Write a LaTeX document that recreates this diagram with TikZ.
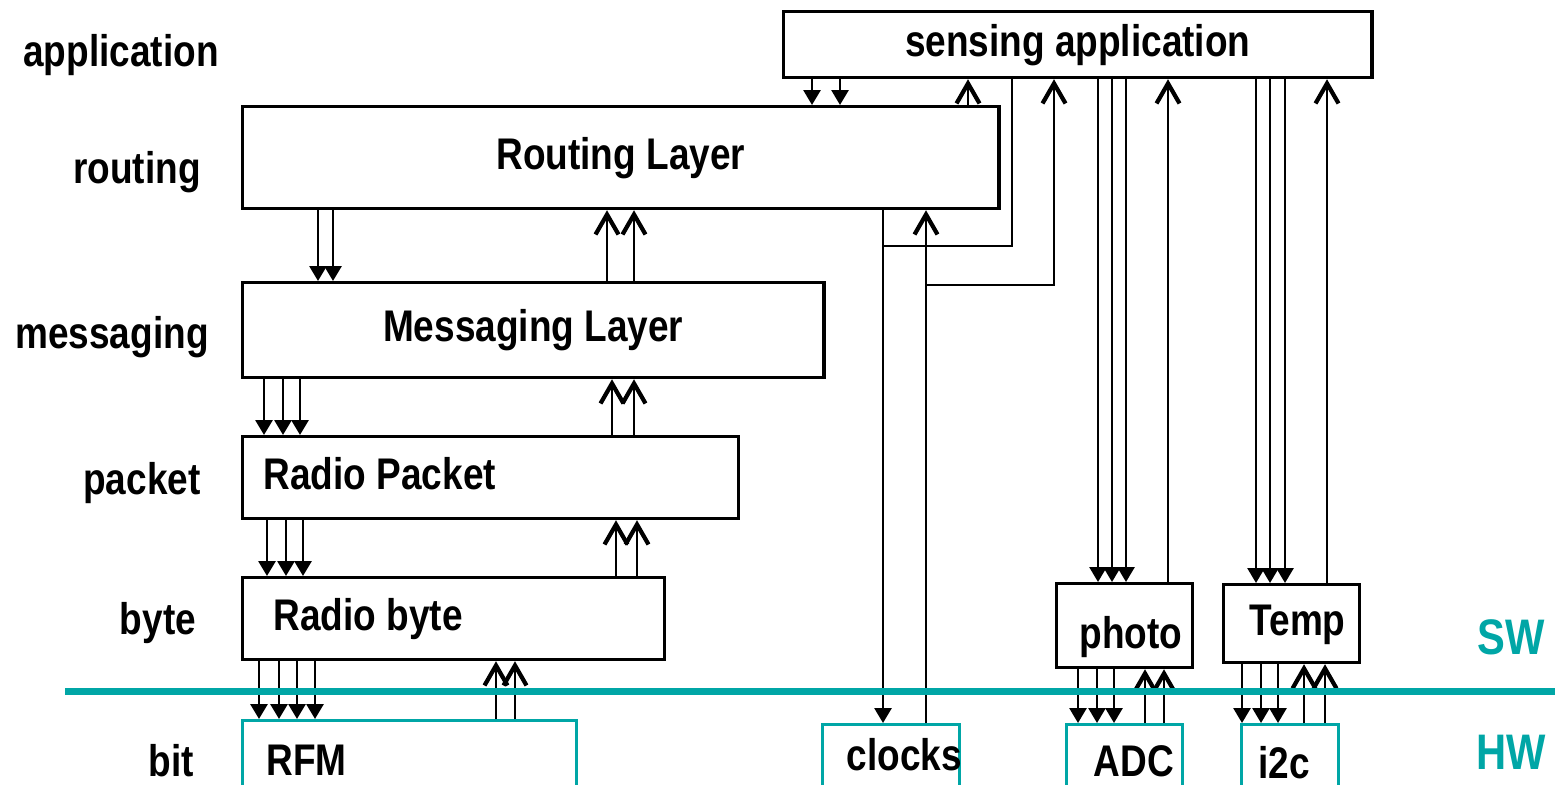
\documentclass[tikz,border=0pt]{standalone}
\usepackage{fontspec}
\usepackage{tikz}
\usetikzlibrary{arrows.meta, positioning}
\newfontfamily\layerfont[FakeStretch=0.835]{Liberation Sans}
\definecolor{hwteal}{HTML}{00A6A6}

\begin{document}
\begin{tikzpicture}[x=0.01cm, y=-0.01cm,
  every node/.style={font=\layerfont\bfseries\fontsize{12.6}{15}\selectfont, text height=0.32cm, text depth=0.09cm},
  sw/.style={draw, line width=0.9pt, anchor=north west, inner sep=0pt},
  hw/.style={sw, draw=hwteal},
  lft/.style={align=flush left, inner xsep=#1},
  side/.style={text=hwteal, font=\layerfont\bfseries\fontsize{14.2}{17}\selectfont},
  dn/.style={line width=0.8pt, -{Triangle[length=0.15cm, width=0.17cm]}},
  up/.style={line width=0.8pt, -{Straight Barb[length=0.2cm, width=0.23cm, line width=1.2pt]}},
  wire/.style={line width=0.8pt}]
  \clip (0,0) rectangle (1558,784);
  % software boxes
  \node[sw, minimum width=5.88cm, minimum height=0.66cm] (app) at (782,10) {sensing application};
  \node[sw, minimum width=7.56cm, minimum height=1.02cm] (routing) at (241,105) {Routing Layer};
  \node[sw, minimum width=5.81cm, minimum height=0.95cm] (msg) at (241,281) {Messaging Layer};
  \node[sw, lft=0.21cm, text width=4.54cm, minimum height=0.82cm] (pkt) at (241,435) {Radio Packet};
  \node[sw, lft=0.31cm, text width=3.60cm, minimum height=0.82cm] (byte) at (241,576) {Radio byte};
  \node[sw, lft=0.23cm, text width=0.90cm, minimum height=0.84cm, text height=0.54cm] (photo) at (1055,582) {photo};
  \node[sw, lft=0.26cm, text width=0.84cm, minimum height=0.78cm] (temp) at (1222,583) {Temp};
  % hardware boxes
  \node[hw, lft=0.24cm, text width=2.86cm, minimum height=0.86cm] (rfm) at (241,719) {RFM};
  \node[hw, lft=0.24cm, text width=0.89cm, minimum height=0.68cm] (clk) at (821,723) {clocks};
  \node[hw, lft=0.27cm, text width=0.62cm, minimum height=0.80cm] (adc) at (1065,723) {ADC};
  \node[hw, lft=0.17cm, text width=0.63cm, minimum height=0.84cm] (i2c) at (1240,723) {i2c};
  % layer names
  \node (lapp) at (121,55) {application};
  \node (lrout) at (137,172) {routing};
  \node (lmsg) at (112,337) {messaging};
  \node (lpkt) at (142,483) {packet};
  \node (lbyte) at (158,623) {byte};
  \node (lbit) at (171,765) {bit};
  \node[side] (lsw) at (1511,643) {SW};
  \node[side] (lhw) at (1511,758) {HW};
  % application <-> routing
  \draw[dn] (app.south -| 812,0) -- (routing.north -| 812,0);
  \draw[dn] (app.south -| 840,0) -- (routing.north -| 840,0);
  \draw[up] (routing.north -| 968,0) -- (app.south -| 968,0);
  % routing <-> messaging
  \draw[dn] (routing.south -| 318,0) -- (msg.north -| 318,0);
  \draw[dn] (routing.south -| 333,0) -- (msg.north -| 333,0);
  \draw[up] (msg.north -| 607,0) -- (routing.south -| 607,0);
  \draw[up] (msg.north -| 634,0) -- (routing.south -| 634,0);
  % messaging <-> packet
  \draw[dn] (msg.south -| 264,0) -- (pkt.north -| 264,0);
  \draw[dn] (msg.south -| 283,0) -- (pkt.north -| 283,0);
  \draw[dn] (msg.south -| 300,0) -- (pkt.north -| 300,0);
  \draw[up] (pkt.north -| 612,0) -- (msg.south -| 612,0);
  \draw[up] (pkt.north -| 634,0) -- (msg.south -| 634,0);
  % packet <-> byte
  \draw[dn] (pkt.south -| 267,0) -- (byte.north -| 267,0);
  \draw[dn] (pkt.south -| 286,0) -- (byte.north -| 286,0);
  \draw[dn] (pkt.south -| 303,0) -- (byte.north -| 303,0);
  \draw[up] (byte.north -| 616,0) -- (pkt.south -| 616,0);
  \draw[up] (byte.north -| 637,0) -- (pkt.south -| 637,0);
  % byte <-> RFM
  \draw[dn] (byte.south -| 259,0) -- (rfm.north -| 259,0);
  \draw[dn] (byte.south -| 279,0) -- (rfm.north -| 279,0);
  \draw[dn] (byte.south -| 297,0) -- (rfm.north -| 297,0);
  \draw[dn] (byte.south -| 315,0) -- (rfm.north -| 315,0);
  \draw[up] (rfm.north -| 496,0) -- (byte.south -| 496,0);
  \draw[up] (rfm.north -| 515,0) -- (byte.south -| 515,0);
  % clocks
  \coordinate (jdown) at (883,246);
  \coordinate (jup) at (926,285);
  \draw[dn] (routing.south -| 883,0) -- (clk.north -| 883,0);
  \draw[wire] (app.south -| 1012,0) |- (jdown);
  \draw[up] (clk.north -| 926,0) -- (routing.south -| 926,0);
  \draw[up] (jup) -| (app.south -| 1054,0);
  % application <-> photo
  \draw[dn] (app.south -| 1098,0) -- (photo.north -| 1098,0);
  \draw[dn] (app.south -| 1112,0) -- (photo.north -| 1112,0);
  \draw[dn] (app.south -| 1126,0) -- (photo.north -| 1126,0);
  \draw[up] (photo.north -| 1168,0) -- (app.south -| 1168,0);
  % application <-> Temp
  \draw[dn] (app.south -| 1256,0) -- (temp.north -| 1256,0);
  \draw[dn] (app.south -| 1270,0) -- (temp.north -| 1270,0);
  \draw[dn] (app.south -| 1285,0) -- (temp.north -| 1285,0);
  \draw[up] (temp.north -| 1327,0) -- (app.south -| 1327,0);
  % photo <-> ADC
  \draw[dn] (photo.south -| 1078,0) -- (adc.north -| 1078,0);
  \draw[dn] (photo.south -| 1097,0) -- (adc.north -| 1097,0);
  \draw[dn] (photo.south -| 1114,0) -- (adc.north -| 1114,0);
  \draw[up] (adc.north -| 1145,0) -- (photo.south -| 1145,0);
  \draw[up] (adc.north -| 1164,0) -- (photo.south -| 1164,0);
  % Temp <-> i2c
  \draw[dn] (temp.south -| 1242,0) -- (i2c.north -| 1242,0);
  \draw[dn] (temp.south -| 1261,0) -- (i2c.north -| 1261,0);
  \draw[dn] (temp.south -| 1278,0) -- (i2c.north -| 1278,0);
  \draw[up] (i2c.north -| 1304,0) -- (temp.south -| 1304,0);
  \draw[up] (i2c.north -| 1325,0) -- (temp.south -| 1325,0);
  % SW / HW border
  \draw[hwteal, line width=2pt] (65,691) -- (1555,691);
\end{tikzpicture}
\end{document}
